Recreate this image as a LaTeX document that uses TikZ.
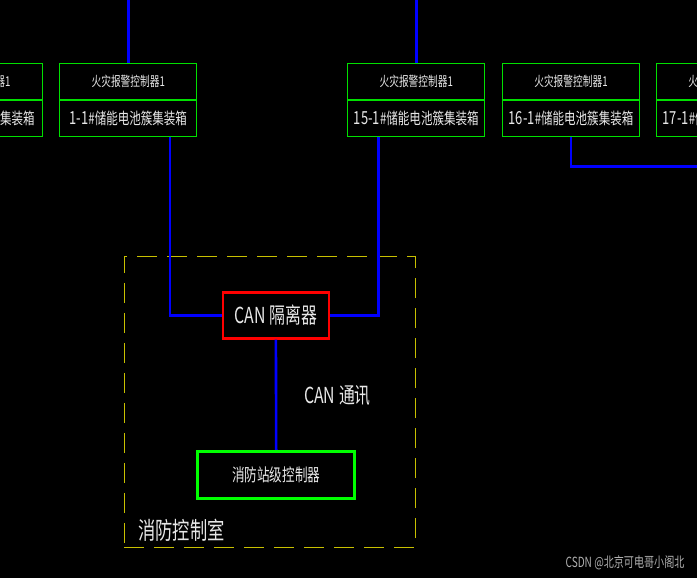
\documentclass[tikz,border=0pt]{standalone}
\usepackage{fontspec}
\newfontfamily\cad[FakeStretch=0.72]{Noto Sans CJK SC}
\definecolor{cadgreen}{HTML}{00E000}
\definecolor{brightgreen}{HTML}{00FF00}
\definecolor{cadblue}{HTML}{0000FF}
\definecolor{cadred}{HTML}{FF0000}
\definecolor{cadyellow}{HTML}{C8C000}
\definecolor{txt}{HTML}{E8E8E8}
\definecolor{wm}{HTML}{B0B0B0}
\tikzset{
  cell/.style={draw=cadgreen, line width=1.2pt, minimum width=137pt, minimum height=37pt, inner sep=0pt, text=txt},
  toplab/.style={font=\cad\fontsize{13.5}{14}\selectfont},
  botlab/.style={font=\cad\fontsize{16}{17}\selectfont},
  wire/.style={draw=cadblue, line width=2.6pt},
}
\begin{document}
\begin{tikzpicture}[x=1pt,y=-1pt]
\useasboundingbox (0,0) rectangle (697,578);
\fill[black] (0,0) rectangle (697,578);
\clip (0,0) rectangle (697,578);
\coordinate (top) at (0,0);
\coordinate (redge) at (697,166.7);
% cabinets
\node[cell,toplab] (b0t) at (-26.2,81.7) {火灾报警控制器1};
\node[cell,botlab] (b0b) at (-26.2,118.4) {14{-}1\#储能电池簇集装箱};
\node[cell,toplab] (b1t) at (128.3,81.7) {火灾报警控制器1};
\node[cell,botlab] (b1b) at (128.3,118.4) {{\fontsize{18}{18}\selectfont 1{-}1}\#储能电池簇集装箱};
\node[cell,toplab] (b15t) at (416.3,81.7) {火灾报警控制器1};
\node[cell,botlab] (b15b) at (416.3,118.4) {{\fontsize{18}{18}\selectfont 15{-}1}\#储能电池簇集装箱};
\node[cell,toplab] (b16t) at (571,81.7) {火灾报警控制器1};
\node[cell,botlab] (b16b) at (571,118.4) {{\fontsize{18}{18}\selectfont 16{-}1}\#储能电池簇集装箱};
\node[cell,toplab] (b17t) at (725,81.7) {火灾报警控制器1};
\node[cell,botlab] (b17b) at (725,118.4) {{\fontsize{18}{18}\selectfont 17{-}1}\#储能电池簇集装箱};
% room
\node[draw=cadyellow, line width=1.3pt, dash pattern=on 20pt off 10pt, minimum width=291pt, minimum height=291pt, inner sep=0pt] (room) at (269.7,401.7) {};
% CAN isolator
\node[draw=cadred, line width=2.6pt, minimum width=106pt, minimum height=46pt, inner sep=0pt, text=txt, font=\cad\fontsize{22}{24}\selectfont] (can) at (275.9,315.3) {CAN\,隔离器};
% station controller
\node[draw=brightgreen, line width=2.6pt, minimum width=157pt, minimum height=47pt, inner sep=0pt, text=txt, font=\cad\fontsize{17.5}{19}\selectfont] (st) at (276.2,474.7) {消防站级控制器};
% labels
\node[text=txt, font=\cad\fontsize{22}{24}\selectfont] (canlab) at (337.5,396) {CAN\,通讯};
\node[text=txt, font=\cad\fontsize{24}{26}\selectfont] (roomlab) at (181.5,530) {消防控制室};
\node[text=wm, font=\cad\fontsize{14}{15}\selectfont, anchor=east] (wmk) at (688,563) {CSDN @北京可电哥小阁北};
% wires
\draw[wire] (b1t.north) -- (b1t.north |- top);
\draw[wire] (b15t.north) -- (b15t.north |- top);
\draw[wire] ([xshift=41.7pt]b1b.south) |- (can.west);
\draw[wire] ([xshift=-37.6pt]b15b.south) |- (can.east);
\draw[wire] (b16b.south) |- (redge);
\draw[wire] (can.south) -- (st.north);
\end{tikzpicture}
\end{document}
